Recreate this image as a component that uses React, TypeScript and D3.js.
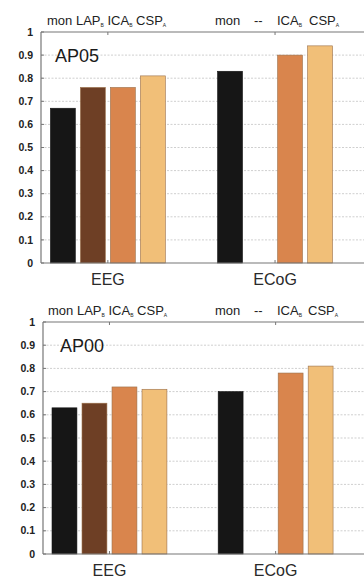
import React from "react";
import { scaleLinear, scaleBand, range } from "d3";

const groups = ["EEG", "ECoG"];
const methods = ["mon", "LAP", "ICA", "CSP"];
const methodColors = ["#161616", "#6e3f25", "#d9854d", "#f1bf78"];

// null = method not used for that group
const ap05EEG = [0.67, 0.76, 0.76, 0.81];
const ap05ECoG = [0.83, null, 0.9, 0.94];
const ap00EEG = [0.63, 0.65, 0.72, 0.71];
const ap00ECoG = [0.7, null, 0.78, 0.81];

const yTicks = range(0, 1.01, 0.1).map((d) => Math.round(d * 10) / 10);
const headerEEG = [
  { t: "mon", sub: "" },
  { t: "LAP", sub: "B" },
  { t: "ICA", sub: "B" },
  { t: "CSP", sub: "A" },
];
const headerECoG = [
  { t: "mon", sub: "" },
  { t: "--", sub: "" },
  { t: "ICA", sub: "B" },
  { t: "CSP", sub: "A" },
];

const font = "'Liberation Sans', Arial, sans-serif";

type PanelProps = {
  title: string;
  values: (number | null)[][];
  top: number;
  bottom: number;
  left: number;
  headerX: number[];
  titleX: number;
};

const Sub = ({ s }: { s: string }) => (
  <tspan fontSize={5} dy={2}>
    {s}
  </tspan>
);

const Panel = ({ title, values, top, bottom, left, headerX, titleX }: PanelProps) => {
  const right = 372;
  const y = scaleLinear().domain([0, 1]).range([bottom, top]);
  const x = scaleLinear().domain([0.6, 2.58]).range([left, right]);
  const inner = scaleBand<string>()
    .domain(methods)
    .range([-60, 60])
    .paddingInner(0.17)
    .paddingOuter(0.085);

  return (
    <g>
      {/* dotted grid */}
      {yTicks.slice(1, -1).map((t) => (
        <line
          key={"g" + t}
          x1={left}
          x2={right}
          y1={y(t)}
          y2={y(t)}
          stroke="#cfcfcf"
          strokeWidth={1}
          strokeDasharray="2,1.5"
        />
      ))}
      {/* bars */}
      {groups.map((g, gi) =>
        values[gi].map((v, mi) =>
          v == null ? null : (
            <rect
              key={g + mi}
              x={x(gi + 1) + (inner(methods[mi]) as number)}
              y={y(v)}
              width={inner.bandwidth()}
              height={y(0) - y(v)}
              fill={methodColors[mi]}
              stroke={mi === 0 ? "#111" : "#9a6f4a"}
              strokeWidth={0.6}
            />
          )
        )
      )}
      {/* axes box */}
      <line x1={left} x2={left} y1={top} y2={bottom} stroke="#777" strokeWidth={1.2} />
      <line x1={left} x2={right} y1={bottom} y2={bottom} stroke="#777" strokeWidth={1.2} />
      <line x1={left} x2={right} y1={top} y2={top} stroke="#777" strokeWidth={1.2} />
      {yTicks.map((t) => (
        <g key={"t" + t}>
          <line x1={left} x2={left + 3} y1={y(t)} y2={y(t)} stroke="#777" />
          <text
            x={left - 8}
            y={y(t)}
            dy="0.35em"
            textAnchor="end"
            fontFamily={font}
            fontSize={10.5}
            fontWeight="bold"
            fill="#222"
          >
            {t === 0 || t === 1 ? String(t) : t.toFixed(1)}
          </text>
        </g>
      ))}
      {groups.map((g, gi) => (
        <g key={"x" + g}>
          <line x1={x(gi + 1)} x2={x(gi + 1)} y1={top} y2={top + 3} stroke="#777" />
          <line x1={x(gi + 1)} x2={x(gi + 1)} y1={bottom} y2={bottom - 3} stroke="#777" />
          <text
            x={x(gi + 1)}
            y={bottom + 22}
            textAnchor="middle"
            fontFamily={font}
            fontSize={16}
            fill="#2a2a2a"
          >
            {g}
          </text>
        </g>
      ))}
      {/* method headers */}
      <text x={headerX[0]} y={top - 7} fontFamily={font} fontSize={13} fill="#222">
        {headerEEG.map((tok, i) => (
          <tspan key={i} dy={i > 0 && headerEEG[i - 1].sub ? -2 : 0}>
            {(i > 0 ? " " : "") + tok.t}
            {tok.sub && <Sub s={tok.sub} />}
          </tspan>
        ))}
      </text>
      {headerECoG.map((tok, i) => (
        <text
          key={"h" + i}
          x={headerX[i + 1]}
          y={top - 7}
          fontFamily={font}
          fontSize={13}
          fill="#222"
        >
          {tok.t}
          {tok.sub && <Sub s={tok.sub} />}
        </text>
      ))}
      <text x={titleX} y={top + 30} fontFamily={font} fontSize={18} fill="#1a1a1a">
        {title}
      </text>
    </g>
  );
};

export default function App() {
  return (
    <svg
      width={364}
      height={578}
      style={{ position: "absolute", left: 0, top: 0, background: "#fff" }}
    >
      <Panel
        title="AP05"
        values={[ap05EEG, ap05ECoG]}
        top={32}
        bottom={263}
        left={41}
        headerX={[47, 215, 254, 277, 309]}
        titleX={55}
      />
      <Panel
        title="AP00"
        values={[ap00EEG, ap00ECoG]}
        top={322}
        bottom={554}
        left={43}
        headerX={[48, 215, 254, 277, 308]}
        titleX={60}
      />
    </svg>
  );
}
